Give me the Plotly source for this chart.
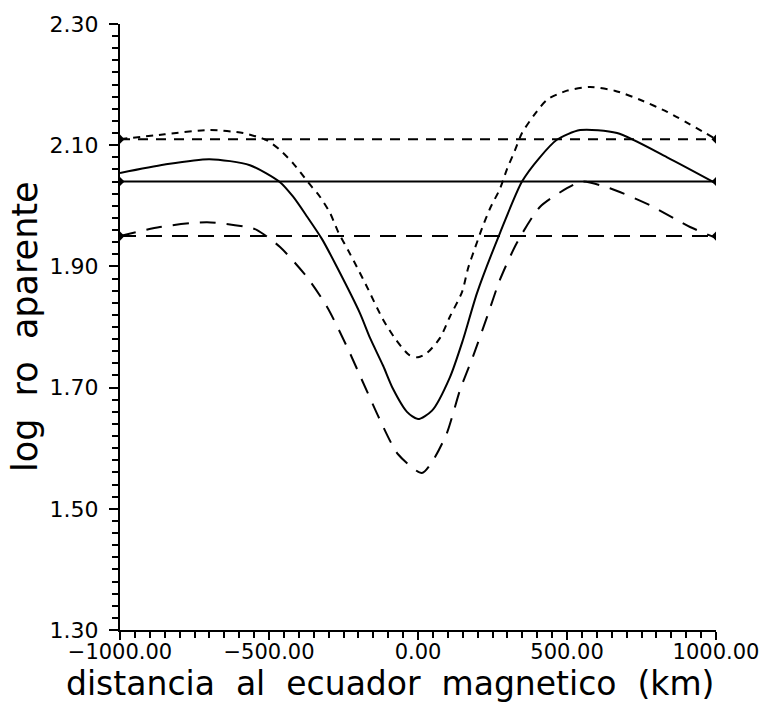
import plotly.graph_objects as go

# ---- data ----
x_mid = [-1000, -850, -700, -564, -463, -419, -372, -322, -272, -195, -161, -117, -84, -37, 0,
         47, 107, 151, 198, 275, 349, 409, 466, 544, 668, 836, 1000]
y_mid = [2.054, 2.068, 2.077, 2.067, 2.039, 2.015, 1.982, 1.945, 1.899, 1.823, 1.782, 1.736, 1.698, 1.660, 1.648,
         1.662, 1.717, 1.779, 1.856, 1.955, 2.040, 2.080, 2.109, 2.125, 2.120, 2.080, 2.037]

x_up = [-1000, -850, -698, -587, -507, -463, -419, -369, -329, -295, -268, -235, -205, -171, -117, -74, -30, 0,
        30, 74, 107, 148, 168, 191, 215, 242, 275, 299, 325, 349, 390, 433, 500, 577, 660, 745, 836, 1000]
y_up = [2.110, 2.118, 2.125, 2.120, 2.108, 2.092, 2.070, 2.039, 2.015, 1.988, 1.957, 1.927, 1.899, 1.866, 1.812, 1.779, 1.754, 1.750,
        1.757, 1.782, 1.817, 1.858, 1.897, 1.930, 1.963, 1.996, 2.028, 2.061, 2.091, 2.120, 2.150, 2.175, 2.190, 2.196, 2.190, 2.175, 2.155, 2.110]

x_lo = [-1000, -866, -708, -574, -540, -463, -372, -305, -238, -184, -128, -67, 13,
        47, 97, 141, 185, 232, 275, 332, 409, 500, 550, 644, 778, 913, 1000]
y_lo = [1.950, 1.965, 1.973, 1.965, 1.960, 1.932, 1.882, 1.833, 1.767, 1.708, 1.647, 1.590, 1.559,
        1.577, 1.625, 1.696, 1.752, 1.817, 1.878, 1.939, 1.998, 2.029, 2.040, 2.029, 2.001, 1.965, 1.947]

x_ends = [-1000, 1000]
ref_up = [2.11, 2.11]
ref_mid = [2.04, 2.04]
ref_lo = [1.95, 1.95]

x_tickvals = [-1000, -500, 0, 500, 1000]
x_title = "distancia\u00a0\u00a0al\u00a0\u00a0ecuador\u00a0\u00a0magnetico\u00a0\u00a0(km)"
y_title = "log\u00a0\u00a0ro\u00a0\u00a0aparente"

fig = go.Figure()
black = "black"

# horizontal reference lines
fig.add_trace(go.Scatter(x=x_ends, y=ref_up, mode="lines+markers",
                         line=dict(color=black, width=2, dash="10px,8px"),
                         marker=dict(symbol="diamond", size=7, color=black)))
fig.add_trace(go.Scatter(x=x_ends, y=ref_mid, mode="lines+markers",
                         line=dict(color=black, width=2),
                         marker=dict(symbol="diamond", size=7, color=black)))
fig.add_trace(go.Scatter(x=x_ends, y=ref_lo, mode="lines+markers",
                         line=dict(color=black, width=2, dash="16px,10px"),
                         marker=dict(symbol="diamond", size=7, color=black)))

# curves
fig.add_trace(go.Scatter(x=x_up, y=y_up, mode="lines",
                         line=dict(color=black, width=2, dash="7px,6px", shape="spline", smoothing=0.7)))
fig.add_trace(go.Scatter(x=x_mid, y=y_mid, mode="lines",
                         line=dict(color=black, width=2, shape="spline", smoothing=0.7)))
fig.add_trace(go.Scatter(x=x_lo, y=y_lo, mode="lines",
                         line=dict(color=black, width=2, dash="16px,11px", shape="spline", smoothing=0.7)))

tickfont = dict(family="DejaVu Sans", size=22, color=black)

fig.update_layout(
    width=773, height=704,
    margin=dict(l=120, r=57, t=24, b=74),
    paper_bgcolor="white", plot_bgcolor="white",
    showlegend=False,
    xaxis=dict(
        range=[-1000, 1000], tickvals=x_tickvals, tickformat=".2f",
        showgrid=False, zeroline=False, showline=True, linecolor=black, linewidth=2,
        ticks="outside", ticklen=8, tickwidth=2, tickcolor=black,
        minor=dict(dtick=50, ticks="outside", ticklen=6, tickwidth=2, tickcolor=black, showgrid=False),
        tickfont=dict(family="DejaVu Sans", size=21, color=black), ticklabelstandoff=-6,
    ),
    yaxis=dict(
        range=[1.30, 2.30], tick0=1.30, dtick=0.2, tickformat=".2f",
        showgrid=False, zeroline=False, showline=True, linecolor=black, linewidth=2,
        ticks="outside", ticklen=9, tickwidth=2, tickcolor=black,
        minor=dict(dtick=0.02, ticks="outside", ticklen=6, tickwidth=2, tickcolor=black, showgrid=False),
        tickfont=tickfont, ticklabelstandoff=6,
    ),
    annotations=[
        dict(text=x_title, xref="paper", yref="paper", x=(390 - 120) / 596, y=(630 - 704) / 606,
             xanchor="center", yanchor="bottom", showarrow=False, borderpad=0,
             font=dict(family="DejaVu Sans", size=33, color=black)),
        dict(text=y_title, xref="paper", yref="paper", x=(25 - 120) / 596, y=0.5,
             xanchor="center", yanchor="middle", showarrow=False, textangle=-90,
             font=dict(family="DejaVu Sans", size=35, color=black)),
    ],
)

fig.write_html("out.html")
